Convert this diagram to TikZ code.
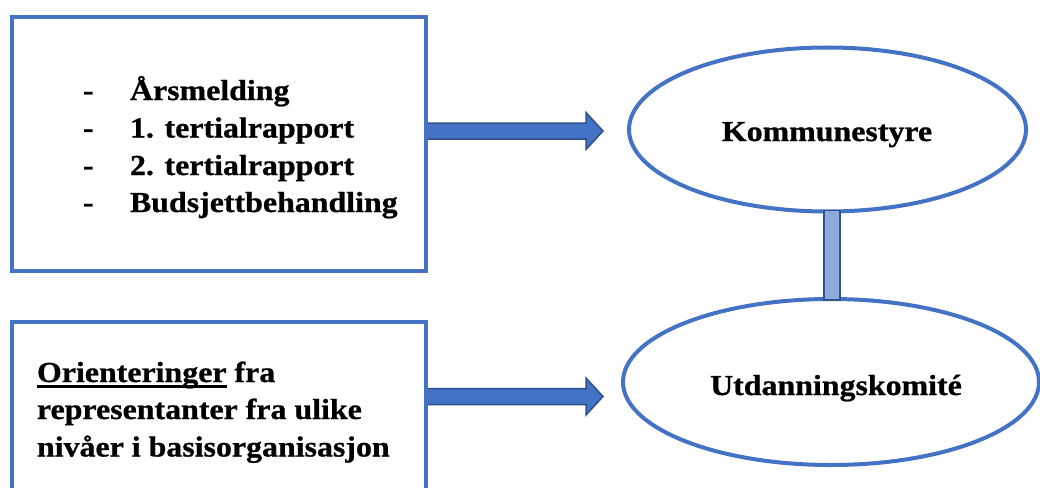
\documentclass[tikz,border=0pt]{standalone}
\usepackage{fontspec}
\setmainfont{Liberation Serif}[FakeStretch=1.1,BoldFeatures={FakeBold=0.8}]
\usetikzlibrary{shapes.geometric,calc}
\definecolor{wblue}{HTML}{4472C4}
\definecolor{wdark}{HTML}{2F528F}
\definecolor{wlight}{HTML}{8FAADC}
\tikzset{
  boxstyle/.style={draw=wblue,line width=4pt,fill=white,rectangle,inner sep=0pt,outer sep=0pt},
  ellstyle/.style={draw=wblue,line width=4pt,fill=white,ellipse,inner sep=0pt,outer sep=0pt},
  txt/.style={font=\fontsize{29}{37.3}\selectfont\bfseries,inner sep=0pt,outer sep=0pt,anchor=base west},
  ctxt/.style={font=\fontsize{29}{37.3}\selectfont\bfseries,inner sep=0pt,outer sep=0pt,anchor=base},
  blockarrow/.style={fill=wblue,draw=wdark,line width=1.5pt,line join=miter},
  linkbar/.style={fill=wlight,draw=wdark,line width=1.5pt}
}
\newlength{\myulw}
\newcommand{\thickul}[1]{\settowidth{\myulw}{#1}\rlap{\rule[-6.3pt]{\myulw}{3pt}}#1}
\newcommand{\barrow}[2]{%
  \draw[blockarrow] ($(#1)+(0,-8)$) -- ($(#2)+(-17,-8)$) -- ($(#2)+(-17,-18.5)$) -- (#2)
    -- ($(#2)+(-17,18.5)$) -- ($(#2)+(-17,8)$) -- ($(#1)+(0,8)$) -- cycle;}
\begin{document}
\begin{tikzpicture}[x=1pt,y=-1pt]
\useasboundingbox (0,0) rectangle (1040,487);
\clip (0,0) rectangle (1040,487);

% arrow end points
\coordinate (a1s) at (427,131);
\coordinate (a1e) at (603,131);
\coordinate (a2s) at (427,396.5);
\coordinate (a2e) at (603,396.5);
\barrow{a1s}{a1e}
\barrow{a2s}{a2e}

% boxes
\node[boxstyle,minimum width=414pt,minimum height=254pt] (top) at (219,144) {};
\node[boxstyle,minimum width=414pt,minimum height=220pt] (bot) at (219,432) {};

% ellipses
\node[ellstyle,minimum width=397pt,minimum height=164pt] (kom) at (827.5,129.5) {};
\node[ellstyle,minimum width=416pt,minimum height=166pt] (utd) at (831,382) {};

% link bar between ellipses
\draw[linkbar] ([xshift=-3.5pt,yshift=1pt]kom.south) rectangle ([xshift=9pt,yshift=-1pt]utd.north);

% texts of the upper box
\node[txt] (d1) at (83,100) {-};
\node[txt] (t1) at (130,100) {Årsmelding};
\node[txt] (d2) at (83,137.5) {-};
\node[txt] (t2) at (130,137.5) {1. tertialrapport};
\node[txt] (d3) at (83,175) {-};
\node[txt] (t3) at (130,175) {2. tertialrapport};
\node[txt] (d4) at (83,212) {-};
\node[txt] (t4) at (130,212) {Budsjettbehandling};

% texts of the lower box
\node[txt] (o1) at (37,382) {\thickul{Orienteringer} fra};
\node[txt] (o2) at (37,419) {representanter fra ulike};
\node[txt] (o3) at (37,456.5) {nivåer i basisorganisasjon};

% ellipse labels
\node[ctxt] (komtxt) at (827,141) {Kommunestyre};
\node[ctxt] (utdtxt) at (836,395) {Utdanningskomité};
\end{tikzpicture}
\end{document}
